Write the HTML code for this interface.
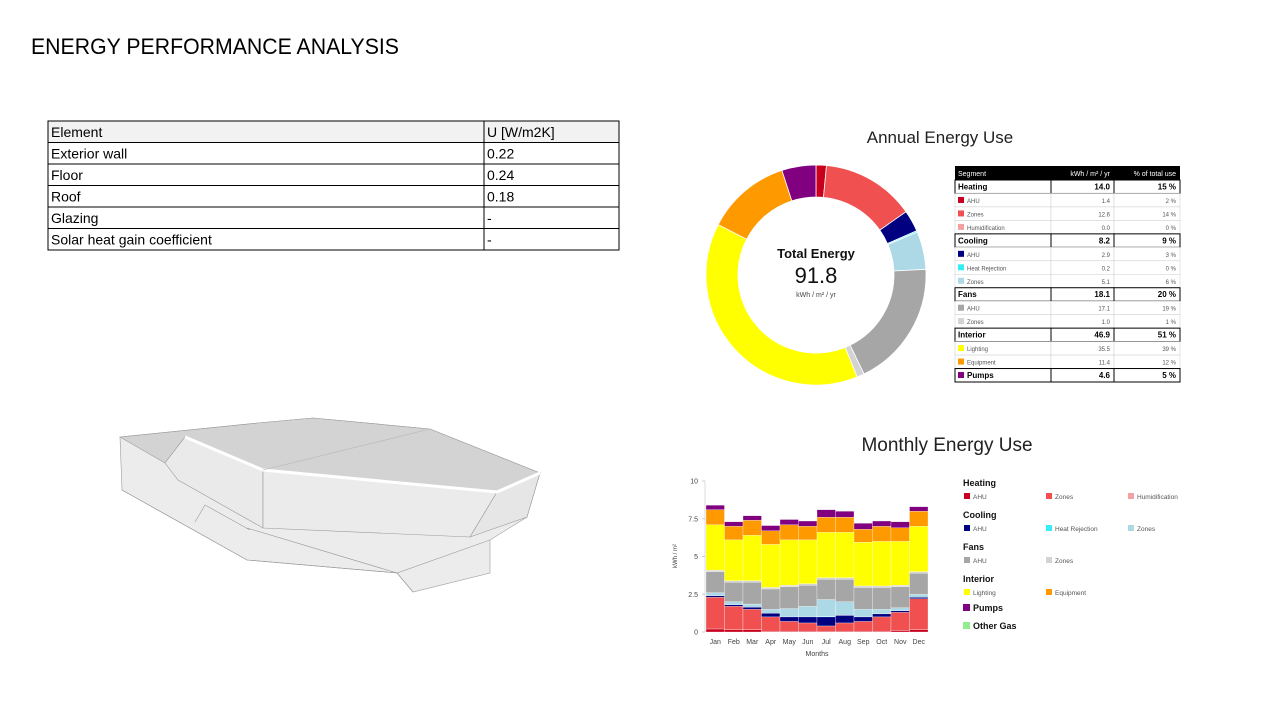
<!DOCTYPE html>
<html><head><meta charset="utf-8"><style>
html,body{margin:0;padding:0;background:#fff;width:1280px;height:720px;overflow:hidden;font-family:"Liberation Sans",sans-serif}
svg{position:absolute;left:0;top:0}
</style></head><body>
<svg id="page" width="1280" height="720" viewBox="0 0 1280 720">
<text x="31" y="54" font-size="22" fill="#000" textLength="368" lengthAdjust="spacingAndGlyphs">ENERGY PERFORMANCE ANALYSIS</text>
<g id="utable"></g>
<g stroke="#9a9a9a" stroke-width="0.6">
  <polygon points="120,437 258,423 313,418 430,429 540,473 527,517 490,540 490,573 413,592 397,573 247,560 122,490" fill="#ececec"/>
  <polygon points="120,437 258,423 313,418 430,429 540,473 497,492 263,470 185,437 165,463" fill="#d3d3d3"/>
  <polygon points="185,437 263,470 263,528 178,480 165,463" fill="#eaeaea"/>
  <polygon points="263,470 497,492 470,537 263,528" fill="#ebebeb"/>
  <polygon points="497,492 540,473 527,517 470,537" fill="#e6e6e6"/>
  <polyline points="185,437 263,470 497,492 540,473" fill="none" stroke="#fff" stroke-width="3"/>
  <line x1="263" y1="470" x2="430" y2="429" stroke="#b5b5b5"/>
  <polyline points="122,490 247,560 397,573 413,592" fill="none"/>
  <polyline points="247,528 397,573 490,540" fill="none"/>
  <polyline points="195,522 205,505 250,530" fill="none"/>
</g>
<text x="940" y="143" font-size="17" text-anchor="middle" fill="#222">Annual Energy Use</text>
<g id="donut"></g>
<text x="816" y="258" font-size="13" font-weight="bold" text-anchor="middle" fill="#111">Total Energy</text>
<text x="816" y="283" font-size="22" text-anchor="middle" fill="#111">91.8</text>
<text x="816" y="297" font-size="7" text-anchor="middle" fill="#444">kWh / m² / yr</text>
<g id="atable"></g>
<text x="947" y="451" font-size="19" text-anchor="middle" fill="#222">Monthly Energy Use</text>
<g id="chart"></g>
<g id="legend"></g>
</svg>
<script>
const NS="http://www.w3.org/2000/svg";
function mk(parent,tag,attrs,txt){const e=document.createElementNS(NS,tag);for(const k in attrs)e.setAttribute(k,attrs[k]);if(txt!==undefined)e.textContent=txt;parent.appendChild(e);return e;}

// U-value table
const uRows=[["Element","U [W/m2K]"],["Exterior wall","0.22"],["Floor","0.24"],["Roof","0.18"],["Glazing","-"],["Solar heat gain coefficient","-"]];
const ut=document.getElementById('utable');
uRows.forEach((r,i)=>{const y=121+i*21.5;
  const a=mk(ut,'rect',{x:48,y:y,width:436,height:21.5,fill:i==0?'#f2f2f2':'#fff',stroke:'#000','stroke-width':1});
  
  
  mk(ut,'rect',{x:484,y:y,width:135,height:21.5,fill:i==0?'#f2f2f2':'#fff',stroke:'#000','stroke-width':1});
  const t1=mk(ut,'text',{x:51,y:y+16,'font-size':14},r[0]);
  
  
  const t2=mk(ut,'text',{x:487,y:y+16,'font-size':14},r[1]);
  
  
});

// Donut
const segNames=["Heating AHU","Heating Zones","Humidification","Cooling AHU","Heat Rejection","Cooling Zones","Fans AHU","Fans Zones","Lighting","Equipment","Pumps"];
const segValues=[1.4,12.6,0.0,2.9,0.2,5.1,17.1,1.0,35.5,11.4,4.6];
const segColors=["#c8001e","#f05050","#f4a0a0","#000080","#33eef5","#add8e6","#a6a6a6","#d3d3d3","#ffff00","#ff9900","#800080"];
const dg=document.getElementById('donut');
const cx=816,cy=275,R=110,r=78;const tot=segValues.reduce((a,b)=>a+b,0);
let ang=0;
function pt(rad,a){return [cx+rad*Math.sin(a),cy-rad*Math.cos(a)];}
segValues.forEach((v,i)=>{if(v<=0)return;const a0=ang/tot*2*Math.PI;ang+=v;const a1=ang/tot*2*Math.PI;
  const lg=(a1-a0)>Math.PI?1:0;const p0=pt(R,a0),p1=pt(R,a1),q1=pt(r,a1),q0=pt(r,a0);
  const p=mk(dg,'path',{d:`M${p0} A${R},${R} 0 ${lg} 1 ${p1} L${q1} A${r},${r} 0 ${lg} 0 ${q0}Z`,fill:segColors[i],stroke:'#fff','stroke-width':0.8});
  
  
});

// Annual table
const tblRows=[["Heating","14.0","15 %",1,null],["AHU","1.4","2 %",0,0],["Zones","12.6","14 %",0,1],["Humidification","0.0","0 %",0,2],
["Cooling","8.2","9 %",1,null],["AHU","2.9","3 %",0,3],["Heat Rejection","0.2","0 %",0,4],["Zones","5.1","6 %",0,5],
["Fans","18.1","20 %",1,null],["AHU","17.1","19 %",0,6],["Zones","1.0","1 %",0,7],
["Interior","46.9","51 %",1,null],["Lighting","35.5","39 %",0,8],["Equipment","11.4","12 %",0,9],["Pumps","4.6","5 %",1,10]];
const at=document.getElementById('atable');
const hr=mk(at,'rect',{x:955,y:166,width:225,height:14,fill:'#000'});


mk(at,'text',{x:958,y:176,'font-size':7,fill:'#fff'},'Segment');
mk(at,'text',{x:1110,y:176,'font-size':7,fill:'#fff','text-anchor':'end'},'kWh / m² / yr');
mk(at,'text',{x:1176,y:176,'font-size':7,fill:'#fff','text-anchor':'end'},'% of total use');
const rh=(382-180)/15;
tblRows.forEach((row,i)=>{const y=180+i*rh;const b=row[3];
  [[955,96],[1051,63],[1114,66]].forEach(c=>mk(at,'rect',{x:c[0],y:y,width:c[1],height:rh,fill:'#fff',stroke:b?'#000':'#ccc','stroke-width':b?1:0.5}));
  let tx=958;
  if(row[4]!==null){const s=mk(at,'rect',{x:958,y:y+3.5,width:6,height:6,fill:segColors[row[4]]});
    
    tx=967;}
  const t=mk(at,'text',{x:tx,y:y+9.5,'font-size':b?8:6,'font-weight':b?'bold':'normal',fill:b?'#000':'#555'},row[0]);
  
  
  mk(at,'text',{x:1110,y:y+9.5,'font-size':b?8:6,'font-weight':b?'bold':'normal','text-anchor':'end',fill:b?'#000':'#555'},row[1]);
  mk(at,'text',{x:1176,y:y+9.5,'font-size':b?8:6,'font-weight':b?'bold':'normal','text-anchor':'end',fill:b?'#000':'#555'},row[2]);
});

// Monthly chart data
const months=["Jan","Feb","Mar","Apr","May","Jun","Jul","Aug","Sep","Oct","Nov","Dec"];
const heatAHU=[0.2,0.15,0.15,0.05,0.05,0.05,0.05,0.05,0.05,0.05,0.1,0.15];
const heatZones=[2.1,1.55,1.35,0.95,0.65,0.55,0.35,0.55,0.65,0.95,1.2,2.05];
const coolAHU=[0.1,0.1,0.15,0.25,0.3,0.4,0.6,0.5,0.3,0.2,0.1,0.1];
const heatRej=[0,0,0,0,0,0,0.05,0.02,0,0,0,0];
const coolZones=[0.2,0.2,0.2,0.25,0.55,0.7,1.1,0.88,0.5,0.3,0.2,0.2];
const fansAHU=[1.4,1.3,1.45,1.35,1.45,1.4,1.35,1.5,1.45,1.45,1.4,1.4];
const fansZones=[0.1,0.1,0.1,0.1,0.1,0.1,0.1,0.1,0.1,0.1,0.1,0.1];
const lighting=[3.0,2.7,3.0,2.85,3.0,2.9,3.0,3.0,2.9,2.95,2.9,3.0];
const equipment=[1.0,0.9,1.0,0.9,1.0,0.9,1.0,1.0,0.85,1.0,0.9,1.0];
const pumps=[0.3,0.3,0.3,0.35,0.35,0.35,0.5,0.4,0.4,0.35,0.4,0.3];
const yTicks=[0,2.5,5,7.5,10];
const yTickLabels=["0","2.5","5","7.5","10"];
const series=[heatAHU,heatZones,coolAHU,heatRej,coolZones,fansAHU,fansZones,lighting,equipment,pumps];
const seriesNames=["heating-ahu","heating-zones","cooling-ahu","heat-rejection","cooling-zones","fans-ahu","fans-zones","lighting","equipment","pumps"];
const seriesColors=["#c8001e","#f05050","#000080","#33eef5","#add8e6","#a6a6a6","#d3d3d3","#ffff00","#ff9900","#800080"];
const X0=706,X1=928,Y0=632,Y1=481;
const yS=v=>Y0-(v/10)*(Y0-Y1);
const bw=(X1-X0)/months.length;const xS=i=>X0+i*bw;
const ch=document.getElementById('chart');
mk(ch,'line',{x1:X0-1,y1:Y1,x2:X0-1,y2:Y0,stroke:'#ddd','stroke-width':1});
yTicks.forEach((t,i)=>{const tl=mk(ch,'text',{x:X0-8,y:yS(t)+2.5,'font-size':7,'text-anchor':'end',fill:'#444'},yTickLabels[i]);
  
  
  mk(ch,'line',{x1:X0-4,y1:yS(t),x2:X0-1,y2:yS(t),stroke:'#ccc'});});
months.forEach((m,i)=>{let acc=0;
  series.forEach((s,k)=>{const v=s[i];if(v<=0)return;const y0=yS(acc),y1=yS(acc+v);acc+=v;
    const b=mk(ch,'rect',{x:xS(i),y:y1,width:bw,height:y0-y1,fill:seriesColors[k],stroke:'#fff','stroke-width':0.3});
    
    });
  const ml=mk(ch,'text',{x:xS(i)+bw/2,y:644,'font-size':7,'text-anchor':'middle',fill:'#444'},m);
  
  
});
const xt=mk(ch,'text',{x:817,y:656,'font-size':7,'text-anchor':'middle',fill:'#444'},'Months');


const yt=mk(ch,'text',{x:0,y:0,'font-size':6,'text-anchor':'middle',fill:'#444',transform:'translate(677,556) rotate(-90)'},'kWh / m²');



// Legend
const lg=document.getElementById('legend');
const legendGroups=[["Heating",486,[["AHU","#c8001e"],["Zones","#f05050"],["Humidification","#f4a0a0"]]],
["Cooling",518,[["AHU","#000080"],["Heat Rejection","#33eef5"],["Zones","#add8e6"]]],
["Fans",550,[["AHU","#a6a6a6"],["Zones","#d3d3d3"]]],
["Interior",582,[["Lighting","#ffff00"],["Equipment","#ff9900"]]]];
legendGroups.forEach(g=>{const h=mk(lg,'text',{x:963,y:g[1],'font-size':9,'font-weight':'bold',fill:'#111'},g[0]);
  
  
  g[2].forEach((it,j)=>{const x=964+j*82;const s=mk(lg,'rect',{x:x,y:g[1]+7,width:6,height:6,fill:it[1]});
    
    
    mk(lg,'text',{x:x+9,y:g[1]+13,'font-size':6.5,fill:'#555'},it[0]);});
});
[["Pumps","#800080",611],["Other Gas","#90ee90",629]].forEach(p=>{const s=mk(lg,'rect',{x:963,y:p[2]-7,width:7,height:7,fill:p[1]});
  
  
  mk(lg,'text',{x:973,y:p[2],'font-size':9,'font-weight':'bold',fill:'#111'},p[0]);});
</script>
</body></html>
